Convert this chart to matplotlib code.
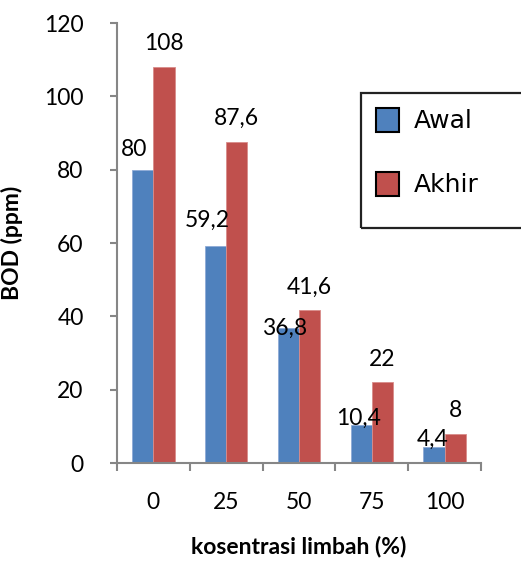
import matplotlib
matplotlib.use('Agg')
import matplotlib.pyplot as plt
from matplotlib.patches import Rectangle
import numpy as np

# data
categories = ['0', '25', '50', '75', '100']
awal = [80, 59.2, 36.8, 10.4, 4.4]
akhir = [108, 87.6, 41.6, 22, 8]
awal_labels = ['80', '59,2', '36,8', '10,4', '4,4']
akhir_labels = ['108', '87,6', '41,6', '22', '8']

# label nudges (points) to mimic the hand-placed labels of the original
awal_dy = [7, 11, -8, -3, -2]
awal_dx = [-6, -6, -3, -2, -1]

blue = '#4F81BD'
red = '#C0504D'
grey = '#868686'
fs = 16.5

plt.rcParams['font.family'] = ['Lato', 'DejaVu Sans']

fig = plt.figure(figsize=(5.21, 5.72), dpi=100)
ax = fig.add_axes([117/521, 109/572, 364/521, 440/572])

x = np.arange(len(categories))
w = 0.29
b1 = ax.bar(x - w/2, awal, w, color=blue, edgecolor='#8EAAD6', linewidth=0.6, label='Awal')
b2 = ax.bar(x + w/2, akhir, w, color=red, edgecolor='#D98C8A', linewidth=0.6, label='Akhir')

for i, (bar, txt) in enumerate(zip(b1, awal_labels)):
    ax.annotate(txt, (bar.get_x() + bar.get_width()/2, bar.get_height()),
                xytext=(awal_dx[i], awal_dy[i]), textcoords='offset points',
                ha='center', va='bottom', fontsize=fs)
for bar, txt in zip(b2, akhir_labels):
    ax.annotate(txt, (bar.get_x() + bar.get_width()/2, bar.get_height()),
                xytext=(0, 9), textcoords='offset points',
                ha='center', va='bottom', fontsize=fs)

ax.set_xlim(-0.5, len(categories) - 0.5)
ax.set_ylim(0, 120)
ax.set_yticks(range(0, 121, 20))
ax.set_xticks(np.arange(-0.5, len(categories), 1.0))
ax.set_xticklabels([])
ax.set_xticks(x, minor=True)
ax.set_xticklabels(categories, minor=True)
ax.tick_params(axis='x', which='minor', length=0, pad=21, labelsize=fs)
ax.tick_params(axis='x', which='major', length=6, width=1.5, color=grey, direction='out')
ax.tick_params(axis='y', length=5, width=1.5, color=grey, pad=19, labelsize=fs)

for s in ['top', 'right']:
    ax.spines[s].set_visible(False)
for s in ['left', 'bottom']:
    ax.spines[s].set_color(grey)
    ax.spines[s].set_linewidth(1.5)

ax.set_ylabel('BOD (ppm)', fontsize=fs, fontweight='bold')
ax.set_xlabel('kosentrasi limbah (%)', fontsize=fs, fontweight='bold', labelpad=16)
ax.yaxis.set_label_coords(-94/364, 0.5)

# legend box, running off the right edge like the original
fig.patches.append(Rectangle((361/521, 1 - 228/572), 0.35, 135/572, transform=fig.transFigure,
                             fill=False, edgecolor='#222222', linewidth=1.6, zorder=5))
leg = fig.legend(handles=[b1, b2], loc='upper left', bbox_to_anchor=(361/521, 1 - 93/572),
                 frameon=False, prop={'family': 'DejaVu Sans', 'size': 18},
                 handlelength=0.92, handleheight=1.08, labelspacing=1.55,
                 handletextpad=0.6, borderpad=0.6, borderaxespad=0)
for h in leg.legend_handles:
    h.set_edgecolor('black')
    h.set_linewidth(1.5)

fig.savefig('out.png', dpi=100)
